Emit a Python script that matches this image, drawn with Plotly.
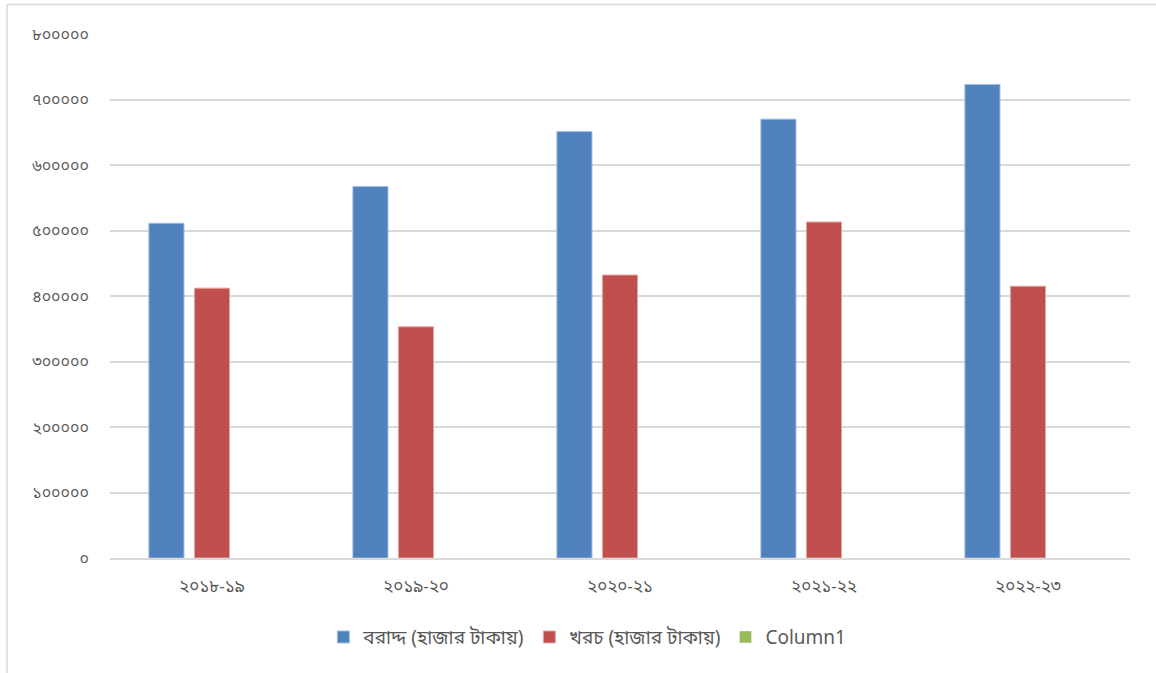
import plotly.graph_objects as go

# Fiscal years (Bengali numerals)
years = ["২০১৮-১৯", "২০১৯-২০", "২০২০-২১", "২০২১-২২", "২০২২-২৩"]

# Allocation and expenditure, in thousand taka
allocation = [511000, 567000, 651000, 670000, 723000]
expenditure = [412000, 353000, 432000, 513000, 415000]
column1 = [None, None, None, None, None]

series_names = ["বরাদ্দ (হাজার টাকায়)", "খরচ (হাজার টাকায়)", "Column1"]

tick_vals = [0, 100000, 200000, 300000, 400000, 500000, 600000, 700000, 800000]
tick_text = ["০", "১০০০০০", "২০০০০০", "৩০০০০০", "৪০০০০০",
             "৫০০০০০", "৬০০০০০", "৭০০০০০", "৮০০০০০"]

BN_FONT = "Noto Sans Bengali, Lohit Bengali, Noto Sans, sans-serif"
GREY = "#595959"

fig = go.Figure()
fig.add_trace(go.Bar(x=years, y=allocation, name=series_names[0],
                     marker=dict(color="#4f81bd", line=dict(color="#9fbbe0", width=1))))
fig.add_trace(go.Bar(x=years, y=expenditure, name=series_names[1],
                     marker=dict(color="#c0504d", line=dict(color="#e3a6a4", width=1))))
fig.add_trace(go.Bar(x=years, y=column1, name=series_names[2],
                     marker=dict(color="#9bbb59")))

fig.update_layout(
    width=1156, height=673,
    margin=dict(l=110, r=26, t=34, b=115),
    paper_bgcolor="white", plot_bgcolor="white",
    barmode="group", bargap=0.33, bargroupgap=0.23,
    font=dict(family=BN_FONT, color=GREY, size=15),
    showlegend=True,
    legend=dict(orientation="h", x=0.468, xanchor="center", y=-0.151, yanchor="middle",
                font=dict(size=19, color=GREY), itemwidth=30, traceorder="normal"),
    shapes=[
        dict(type="line", xref="paper", yref="paper", x0=-0.101, x1=1.03, y0=1.0563, y1=1.0563,
             line=dict(color="#d9d9d9", width=1.5)),
        dict(type="line", xref="paper", yref="paper", x0=-0.101, x1=-0.101, y0=1.0563, y1=-0.23,
             line=dict(color="#d9d9d9", width=1.5)),
    ],
)
fig.update_xaxes(showgrid=False, showline=True, linecolor="#d9d9d9", linewidth=1.5,
                 ticks="", tickfont=dict(size=17, color=GREY), ticklabelstandoff=12,
                 fixedrange=True)
fig.update_yaxes(range=[0, 800000], tickvals=tick_vals, ticktext=tick_text,
                 showgrid=True, gridcolor="#d9d9d9", gridwidth=1.5, zeroline=False,
                 showline=False, ticks="", tickfont=dict(size=16, color=GREY),
                 ticklabelstandoff=20, fixedrange=True)

fig.write_html("out.html")
